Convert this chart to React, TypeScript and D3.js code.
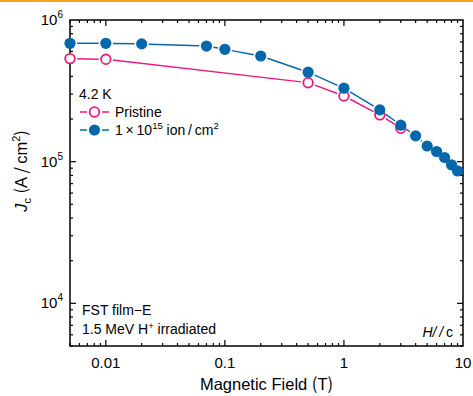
import React, { useEffect, useRef } from 'react'
import * as d3 from 'd3'

// field values (T) and Jc (A/cm^2)
const pristineField = [0.005, 0.01, 0.5, 1, 2, 3]
const pristineJc = [5.34e5, 5.28e5, 3.61e5, 2.91e5, 2.14e5, 1.72e5]

const irradField = [0.005, 0.01, 0.02, 0.07, 0.1, 0.2, 0.5, 1, 2, 3, 4, 5, 6, 7, 8, 9]
const irradJc = [6.85e5, 6.85e5, 6.78e5, 6.55e5, 6.21e5, 5.57e5, 4.28e5, 3.3e5, 2.32e5, 1.81e5, 1.52e5, 1.29e5, 1.18e5, 1.07e5, 9.5e4, 8.6e4]

const xTicks = [0.01, 0.1, 1, 10]
const xTickLabels = ['0.01', '0.1', '1', '10']
const yTicks = [1e4, 1e5, 1e6]
const yTickExp = ['4', '5', '6']

const PINK = '#ec1a7e'
const BLUE = '#0767ab'
const FONT = '"Liberation Sans", Arial, sans-serif'
const CJK = '"Noto Sans CJK JP", sans-serif'

const App = () => {
  const ref = useRef<SVGSVGElement>(null)

  useEffect(() => {
    const width = 473
    const height = 396
    const margin = { top: 20, right: 10, bottom: 50, left: 70 }
    const x = d3.scaleLog().domain([0.005, 10]).range([margin.left, width - margin.right])
    const y = d3.scaleLog().domain([5000, 1e6]).range([height - margin.bottom, margin.top])
    const [x0, x1] = x.range()
    const [y0, y1] = y.range()

    const svg = d3.select(ref.current)
    svg.selectAll('*').remove()

    // orange strip at the very top
    svg.append('rect').attr('x', 0).attr('y', 0).attr('width', width).attr('height', 2).attr('fill', '#f5a31c')

    // minor + major ticks (inward, on all four sides)
    const ticks = svg.append('g').attr('stroke', '#000').attr('stroke-width', 1.2)
    const xMinor: number[] = []
    for (let e = -3; e <= 0; e++) for (let m = 1; m <= 9; m++) {
      const v = m * Math.pow(10, e)
      if (v >= 0.005 && v <= 10) xMinor.push(v)
    }
    xMinor.forEach((v) => {
      const major = xTicks.some((t) => Math.abs(t - v) / t < 1e-6)
      const len = major ? 6 : 3
      ticks.append('line').attr('x1', x(v)).attr('x2', x(v)).attr('y1', y0).attr('y2', y0 - len)
      ticks.append('line').attr('x1', x(v)).attr('x2', x(v)).attr('y1', y1).attr('y2', y1 + len)
    })
    const yMinor: number[] = []
    for (let e = 3; e <= 5; e++) for (let m = 1; m <= 9; m++) {
      const v = m * Math.pow(10, e)
      if (v >= 5000 && v <= 1e6) yMinor.push(v)
    }
    yMinor.forEach((v) => {
      const major = yTicks.some((t) => Math.abs(t - v) / t < 1e-6)
      const len = major ? 6 : 3
      ticks.append('line').attr('x1', x0).attr('x2', x0 + len).attr('y1', y(v)).attr('y2', y(v))
      ticks.append('line').attr('x1', x1).attr('x2', x1 - len).attr('y1', y(v)).attr('y2', y(v))
    })

    // frame
    svg.append('rect')
      .attr('x', x0).attr('y', y1).attr('width', x1 - x0).attr('height', y0 - y1)
      .attr('fill', 'none').attr('stroke', '#000').attr('stroke-width', 1.5)

    // tick labels
    xTicks.forEach((t, i) => {
      svg.append('text').attr('x', x(t)).attr('y', y0 + 22).attr('text-anchor', 'middle')
        .attr('font-family', FONT).attr('font-size', 15).text(xTickLabels[i])
    })
    yTicks.forEach((t, i) => {
      const tx = svg.append('text').attr('x', x0 - 7).attr('y', y(t) + 5).attr('text-anchor', 'end')
        .attr('font-family', FONT).attr('font-size', 15)
      tx.append('tspan').text('10')
      tx.append('tspan').attr('dy', -7).attr('font-size', 10).text(yTickExp[i])
    })

    // axis titles
    const xt = svg.append('text').attr('x', (x0 + x1) / 2).attr('y', 390).attr('text-anchor', 'middle')
      .attr('font-family', FONT).attr('font-size', 16.5)
    xt.append('tspan').text('Magnetic Field ')
    xt.append('tspan').attr('font-family', CJK).text('(')
    xt.append('tspan').text('T')
    xt.append('tspan').attr('font-family', CJK).text(')')

    const yt = svg.append('text').attr('transform', `translate(27,171) rotate(-90)`)
      .attr('text-anchor', 'middle').attr('font-family', FONT).attr('font-size', 16.5)
    yt.append('tspan').attr('font-style', 'italic').text('J')
    yt.append('tspan').attr('dy', 4).attr('font-size', 11).text('c')
    yt.append('tspan').attr('dy', -4).text(' ')
    yt.append('tspan').attr('font-family', CJK).text('(')
    yt.append('tspan').text('A')
    yt.append('tspan').attr('font-family', CJK).text('\u2009/\u2009')
    yt.append('tspan').text('cm')
    yt.append('tspan').attr('dy', -7).attr('font-size', 11).text('2')
    yt.append('tspan').attr('dy', 7).attr('font-family', CJK).text(')')

    // series: line segments with small gaps at markers
    const r = 5.6
    const drawSeries = (xs: number[], ys: number[], color: string, filled: boolean) => {
      const pts = xs.map((v, i) => [x(v), y(ys[i])])
      const g = svg.append('g')
      for (let i = 0; i < pts.length - 1; i++) {
        const [ax, ay] = pts[i]
        const [bx, by] = pts[i + 1]
        const d = Math.hypot(bx - ax, by - ay)
        const cut = r + 1.5
        if (d <= 2 * cut) continue
        const ux = (bx - ax) / d
        const uy = (by - ay) / d
        g.append('line')
          .attr('x1', ax + ux * cut).attr('y1', ay + uy * cut)
          .attr('x2', bx - ux * cut).attr('y2', by - uy * cut)
          .attr('stroke', color).attr('stroke-width', 1.5)
      }
      g.selectAll('circle').data(pts).enter().append('circle')
        .attr('cx', (p) => p[0]).attr('cy', (p) => p[1])
        .attr('r', filled ? r : r - 0.8)
        .attr('fill', filled ? color : '#fff')
        .attr('stroke', color).attr('stroke-width', filled ? 0 : 1.8)
    }
    drawSeries(pristineField, pristineJc, PINK, false)
    drawSeries(irradField, irradJc, BLUE, true)

    // legend
    const lg = svg.append('g').attr('font-family', FONT).attr('font-size', 14)
    lg.append('text').attr('x', 79).attr('y', 99).text('4.2 K')
    const rows = [
      { color: PINK, filled: false, cy: 112 },
      { color: BLUE, filled: true, cy: 130 },
    ]
    rows.forEach((row) => {
      lg.append('line').attr('x1', 80).attr('x2', 87).attr('y1', row.cy).attr('y2', row.cy)
        .attr('stroke', row.color).attr('stroke-width', 1.5)
      lg.append('line').attr('x1', 102).attr('x2', 109).attr('y1', row.cy).attr('y2', row.cy)
        .attr('stroke', row.color).attr('stroke-width', 1.5)
      lg.append('circle').attr('cx', 94.5).attr('cy', row.cy).attr('r', row.filled ? r : r - 0.8)
        .attr('fill', row.filled ? row.color : '#fff').attr('stroke', row.color)
        .attr('stroke-width', row.filled ? 0 : 1.8)
    })
    lg.append('text').attr('x', 115).attr('y', 117).text('Pristine')
    const l2 = lg.append('text').attr('x', 115).attr('y', 135)
    l2.append('tspan').text('1\u2009\u00d7\u200910')
    l2.append('tspan').attr('dy', -6).attr('font-size', 9.5).text('15')
    l2.append('tspan').attr('dy', 6).text(' ion\u2009/\u2009cm')
    l2.append('tspan').attr('dy', -6).attr('font-size', 9.5).text('2')

    // annotations
    const an = svg.append('g').attr('font-family', FONT).attr('font-size', 14)
    an.append('text').attr('x', 82).attr('y', 315).text('FST film\u2212E')
    const a2 = an.append('text').attr('x', 82).attr('y', 334)
    a2.append('tspan').text('1.5 MeV H')
    a2.append('tspan').attr('dy', -5).attr('font-size', 9.5).text('+')
    a2.append('tspan').attr('dy', 5).text(' irradiated')
    const hc = an.append('text').attr('x', 453).attr('y', 337).attr('text-anchor', 'end')
    hc.append('tspan').attr('font-style', 'italic').text('H/\u2009/')
    hc.append('tspan').text('\u2009c')
  }, [])

  return (
    <svg
      ref={ref}
      width={473}
      height={396}
      style={{ position: 'absolute', left: 0, top: 0, background: '#fff' }}
    />
  )
}

export default App
